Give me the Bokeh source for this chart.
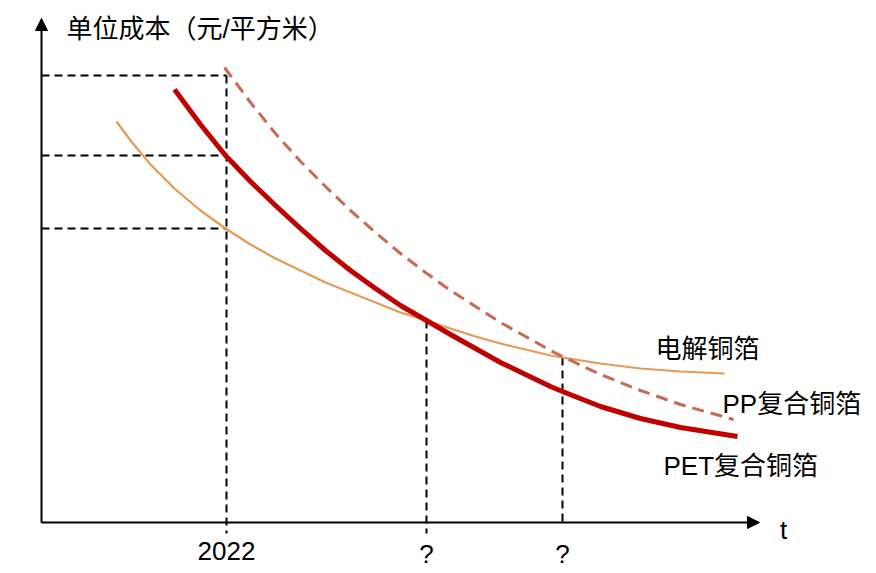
from bokeh.plotting import figure
from bokeh.models import Range1d, Arrow, NormalHead
from bokeh.core.properties import value
from bokeh.embed import file_html
from bokeh.resources import INLINE

# ---- data (t: distance along time axis, cost: height above time axis) ----
elec_t = [75, 89, 109, 134, 159, 184, 209, 234, 259, 284, 309, 334, 359, 385,
          409, 434, 459, 484, 509, 521, 559, 599, 639, 683]
elec_c = [401, 382, 358, 333, 312, 294, 278, 264, 252, 240, 230, 220, 210, 202,
          194, 186, 179, 173, 167, 165, 159, 154, 151, 149]

pet_t = [133, 159, 184, 209, 234, 259, 284, 309, 334, 359, 385, 409, 434, 459,
         484, 509, 521, 559, 599, 639, 696]
pet_c = [433, 398, 367, 341, 317, 294, 272, 252, 234, 217, 202, 188, 174, 160,
         148, 136, 131, 116, 104, 95, 86]

pp_t = [183, 209, 234, 259, 284, 309, 334, 359, 384, 409, 434, 459, 484, 509,
        521, 559, 599, 639, 692]
pp_c = [455, 420, 389, 361, 336, 312, 290, 269, 250, 232, 216, 200, 186, 172,
        166, 148, 132, 118, 103]

tick_t = [185, 385, 521]
tick_labels = ["2022", "?", "?"]
tick_cost = [447, 202, 165]          # where each dashed guide starts
guide_levels = [447, 367, 294]       # horizontal guide levels (cost)

series_names = ["电解铜箔", "PP复合铜箔", "PET复合铜箔"]
y_title = "单位成本（元/平方米）"
x_title = "t"

FONT = value("'Liberation Sans', 'Noto Sans CJK SC', sans-serif")

p = figure(width=876, height=573, output_backend="svg", toolbar_location=None,
           x_range=Range1d(-41, 835), y_range=Range1d(-51, 522),
           x_axis_type=None, y_axis_type=None, min_border=0)
p.outline_line_color = None
p.xgrid.visible = False
p.ygrid.visible = False
p.background_fill_color = "white"
p.border_fill_color = "white"

# guide lines
for lvl in guide_levels:
    p.line([0, tick_t[0]], [lvl, lvl], line_color="black", line_width=2, line_dash="8 5")
for i, (tt, tc) in enumerate(zip(tick_t, tick_cost)):
    bottom = -11 if i < 2 else 0
    p.line([tt, tt], [tc, bottom], line_color="black", line_width=2, line_dash="8 5")

# curves
p.line(elec_t, elec_c, line_color="#E59A55", line_width=2.2, line_join="round")
p.line(pp_t, pp_c, line_color="#C96A55", line_width=3, line_dash="12 7")
p.line(pet_t, pet_c, line_color="#C00000", line_width=5, line_join="round")

# axes with arrows
p.add_layout(Arrow(end=NormalHead(size=12, fill_color="black", line_color="black"),
                   x_start=0, y_start=0, x_end=0, y_end=504,
                   line_color="black", line_width=2))
p.add_layout(Arrow(end=NormalHead(size=12, fill_color="black", line_color="black"),
                   x_start=0, y_start=0, x_end=718, y_end=0,
                   line_color="black", line_width=2))

# texts
p.text(x=[25], y=[494], text=[y_title], text_font=FONT, text_font_size="26px",
       text_color="black", text_baseline="middle", text_align="left")
p.text(x=[742], y=[-7], text=[x_title], text_font=FONT, text_font_size="26px",
       text_color="black", text_baseline="middle", text_align="center")
p.text(x=tick_t, y=[-28, -31, -31], text=tick_labels, text_font=FONT,
       text_font_size="26px", text_color="black", text_baseline="middle",
       text_align="center")
p.text(x=[614, 681, 622], y=[174, 119, 57], text=series_names, text_font=FONT,
       text_font_size="26px", text_color="black", text_baseline="middle",
       text_align="left")

open("out.html", "w").write(file_html(p, INLINE))
